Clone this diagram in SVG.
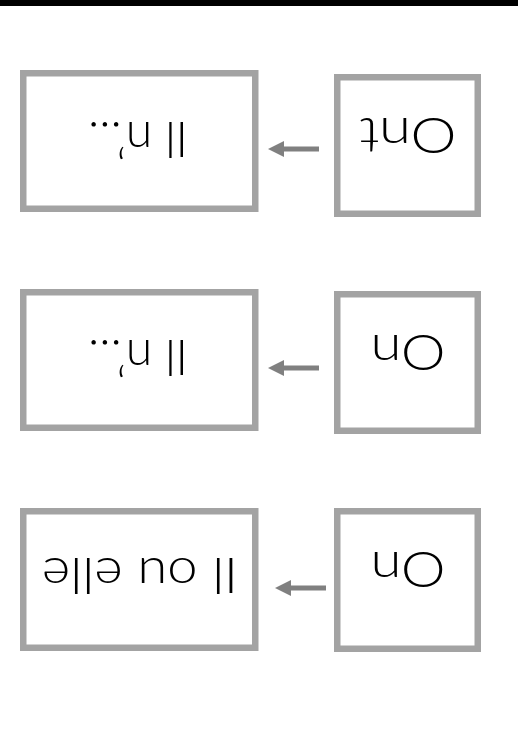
<svg xmlns="http://www.w3.org/2000/svg" width="518" height="737" viewBox="0 0 518 737">
<style>
.box{fill:#fff;stroke:#a3a3a3;stroke-width:6.5}
.lbl{font-family:"Lato","Liberation Sans",sans-serif;font-weight:300;font-size:50px;fill:#000;text-anchor:middle}
.arr{stroke:#808080;stroke-width:5;fill:none;marker-end:url(#ah)}
</style>
<defs>
<marker id="ah" markerUnits="userSpaceOnUse" markerWidth="16" markerHeight="16" refX="0" refY="8" orient="auto" viewBox="0 0 16 16">
<path d="M0,0 L16,8 L0,16 z" fill="#808080"/>
</marker>
</defs>
<rect x="0" y="0" width="518" height="6" fill="#000"/>
<g id="connectors">
<line class="arr" x1="319" y1="149" x2="284" y2="149"/>
<line class="arr" x1="319" y1="368" x2="284" y2="368"/>
<line class="arr" x1="326" y1="588" x2="291" y2="588"/>
</g>
<g id="n1a">
<rect class="box" x="23.25" y="73.25" width="232" height="135.5"/>
<text class="lbl" x="138" y="122" textLength="100" lengthAdjust="spacingAndGlyphs" transform="rotate(180 138 122)">Il n’...</text>
</g>
<g id="n1b">
<rect class="box" x="337.25" y="77.25" width="140.5" height="136.5"/>
<text class="lbl" x="408" y="118" textLength="97" lengthAdjust="spacingAndGlyphs" transform="rotate(180 408 118)">Ont</text>
</g>
<g id="n2a">
<rect class="box" x="23.25" y="292.25" width="232" height="135.5"/>
<text class="lbl" x="138" y="340" textLength="100" lengthAdjust="spacingAndGlyphs" transform="rotate(180 138 340)">Il n’...</text>
</g>
<g id="n2b">
<rect class="box" x="337.25" y="294.25" width="140.5" height="136.5"/>
<text class="lbl" x="408" y="335" textLength="75" lengthAdjust="spacingAndGlyphs" transform="rotate(180 408 335)">On</text>
</g>
<g id="n3a">
<rect class="box" x="23.25" y="511.25" width="232" height="136.5"/>
<text class="lbl" x="140" y="558" textLength="196" lengthAdjust="spacingAndGlyphs" transform="rotate(180 140 558)">Il ou elle</text>
</g>
<g id="n3b">
<rect class="box" x="337.25" y="511.25" width="140.5" height="137.5"/>
<text class="lbl" x="408" y="552" textLength="75" lengthAdjust="spacingAndGlyphs" transform="rotate(180 408 552)">On</text>
</g>
</svg>
